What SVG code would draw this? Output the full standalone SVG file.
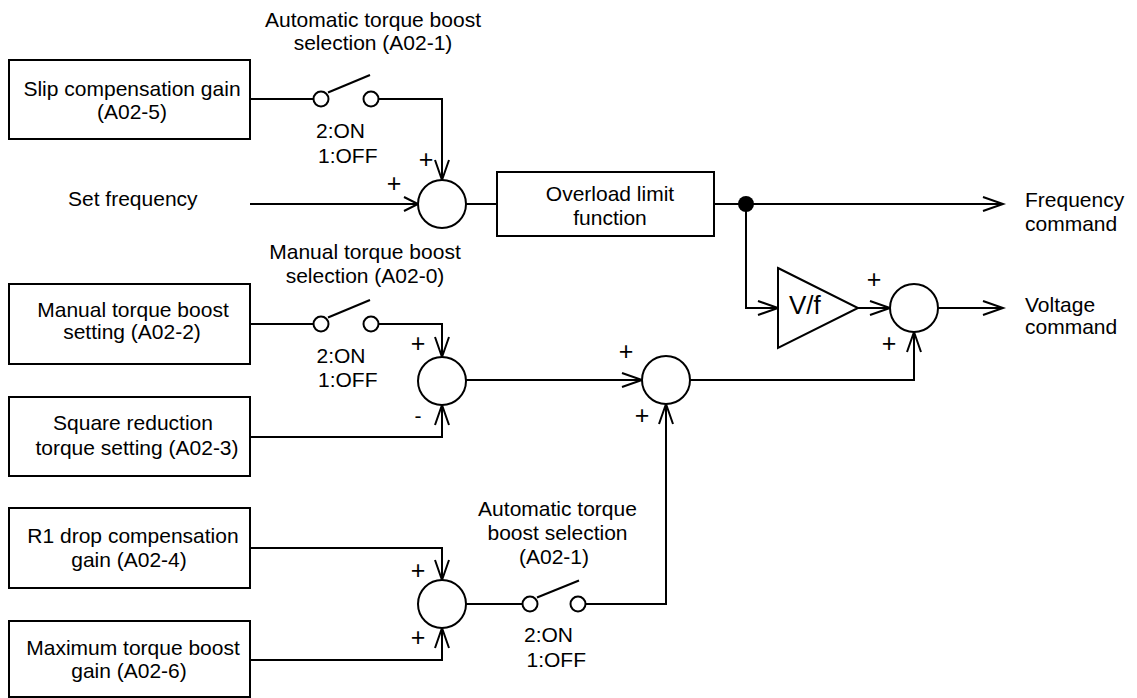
<svg xmlns="http://www.w3.org/2000/svg" width="1137" height="698" viewBox="0 0 1137 698">
<style>
  text { font-family: "Liberation Sans", Arial, sans-serif; font-size: 21px; fill: #000; }
  .c { text-anchor: middle; }
  .pl { text-anchor: middle; font-size: 25px; }
  .box { fill: #fff; stroke: #000; stroke-width: 2; }
  .sum { fill: #fff; stroke: #000; stroke-width: 2; }
  .sw { fill: #fff; stroke: #000; stroke-width: 2; }
  .ln { fill: none; stroke: #000; stroke-width: 2; }
  .arr { marker-end: url(#ah); }
  .arrs { marker-end: url(#ahs); }
</style>
<defs>
  <marker id="ah" markerUnits="userSpaceOnUse" markerWidth="30" markerHeight="30" viewBox="-25 -15 30 30" refX="0" refY="0" orient="auto" overflow="visible">
    <path d="M-20,-7 L0,0 L-20,7" fill="none" stroke="#000" stroke-width="2"/>
  </marker>
  <marker id="ahs" markerUnits="userSpaceOnUse" markerWidth="30" markerHeight="30" viewBox="-25 -15 30 30" refX="0" refY="0" orient="auto" overflow="visible">
    <path d="M-14,-7 L0,0 L-14,7" fill="none" stroke="#000" stroke-width="2"/>
  </marker>
</defs>
<rect width="1137" height="698" fill="#fff"/>

<g id="connectors">
  <path class="ln" d="M250,99 H313.5"/>
  <path class="ln arr" d="M378.5,99 H442 V180"/>
  <path class="ln arrs" d="M250,204 H418"/>
  <path class="ln" d="M466,204 H497"/>
  <path class="ln arr" d="M714,204 H1003"/>
  <path class="ln arr" d="M746,204 V308 H778"/>
  <path class="ln arr" d="M858,308 H890"/>
  <path class="ln arr" d="M938,308 H1003"/>
  <path class="ln" d="M250,324 H313.5"/>
  <path class="ln arr" d="M378.5,324 H442 V357"/>
  <path class="ln arr" d="M250,437 H442 V405"/>
  <path class="ln arr" d="M466,380 H642"/>
  <path class="ln arr" d="M690,380 H914 V332"/>
  <path class="ln arr" d="M250,548 H442 V580"/>
  <path class="ln arr" d="M250,660 H442 V628"/>
  <path class="ln" d="M466,604 H522.5"/>
  <path class="ln arr" d="M585.5,604 H666 V404"/>
  <circle cx="746" cy="204" r="8" fill="#000"/>
</g>

<g id="slip-box">
  <rect class="box" x="9" y="60" width="241" height="79"/>
  <text class="c" x="132" y="96">Slip compensation gain</text>
  <text class="c" x="132" y="119">(A02-5)</text>
</g>

<g id="switch-auto-top">
  <circle class="sw" cx="321" cy="99" r="7.5"/>
  <circle class="sw" cx="371" cy="99" r="7.5"/>
  <line class="ln" x1="328" y1="92.5" x2="370" y2="75"/>
  <text class="c" x="373" y="27">Automatic torque boost</text>
  <text class="c" x="373" y="49.5">selection (A02-1)</text>
  <text x="316" y="138">2:ON</text>
  <text x="318" y="163">1:OFF</text>
</g>

<g id="set-frequency">
  <text x="68" y="206">Set frequency</text>
</g>

<g id="sum1">
  <circle class="sum" cx="442" cy="204" r="24"/>
  <text class="pl" x="426" y="167.75">+</text>
  <text class="pl" x="394" y="191.75">+</text>
</g>

<g id="overload-box">
  <rect class="box" x="497" y="172" width="217" height="64"/>
  <text class="c" x="610" y="200.5">Overload limit</text>
  <text class="c" x="610" y="225">function</text>
</g>

<g id="frequency-command">
  <text x="1025" y="207">Frequency</text>
  <text x="1025" y="231">command</text>
</g>

<g id="vf">
  <polygon points="778,268 858,308 778,348" fill="#fff" stroke="#000" stroke-width="2"/>
  <text x="789" y="314" style="font-size:26px">V/f</text>
</g>

<g id="sum-voltage">
  <circle class="sum" cx="914" cy="308" r="24"/>
  <text class="pl" x="874" y="287.75">+</text>
  <text class="pl" x="889" y="351.75">+</text>
</g>

<g id="voltage-command">
  <text x="1025" y="312">Voltage</text>
  <text x="1025" y="334">command</text>
</g>

<g id="manual-box">
  <rect class="box" x="9" y="284" width="241" height="80"/>
  <text class="c" x="133" y="317">Manual torque boost</text>
  <text class="c" x="132" y="339">setting (A02-2)</text>
</g>

<g id="switch-manual">
  <circle class="sw" cx="321" cy="324" r="7.5"/>
  <circle class="sw" cx="371" cy="324" r="7.5"/>
  <line class="ln" x1="328" y1="317.5" x2="370" y2="300"/>
  <text class="c" x="365" y="259">Manual torque boost</text>
  <text class="c" x="365" y="283">selection (A02-0)</text>
  <text x="316.5" y="363">2:ON</text>
  <text x="318" y="387">1:OFF</text>
</g>

<g id="sum2">
  <circle class="sum" cx="442" cy="381" r="24"/>
  <text class="pl" x="418" y="351.75">+</text>
  <text class="c" x="418" y="422.5">-</text>
</g>

<g id="square-box">
  <rect class="box" x="9" y="397" width="241" height="79"/>
  <text class="c" x="133" y="430">Square reduction</text>
  <text class="c" x="137" y="455">torque setting (A02-3)</text>
</g>

<g id="sum3">
  <circle class="sum" cx="666" cy="380" r="24"/>
  <text class="pl" x="626" y="359.75">+</text>
  <text class="pl" x="642" y="423.75">+</text>
</g>

<g id="r1-box">
  <rect class="box" x="9" y="508" width="241" height="80"/>
  <text class="c" x="133" y="543">R1 drop compensation</text>
  <text class="c" x="129" y="567">gain (A02-4)</text>
</g>

<g id="max-box">
  <rect class="box" x="9" y="621" width="241" height="76"/>
  <text class="c" x="133" y="655">Maximum torque boost</text>
  <text class="c" x="129" y="678">gain (A02-6)</text>
</g>

<g id="sum4">
  <circle class="sum" cx="442" cy="604" r="24"/>
  <text class="pl" x="418" y="578.75">+</text>
  <text class="pl" x="418" y="645.75">+</text>
</g>

<g id="switch-auto-bottom">
  <circle class="sw" cx="530" cy="604" r="7.5"/>
  <circle class="sw" cx="578" cy="604" r="7.5"/>
  <line class="ln" x1="537" y1="597.5" x2="579" y2="580.5"/>
  <text class="c" x="557.5" y="516">Automatic torque</text>
  <text class="c" x="557.5" y="540">boost selection</text>
  <text class="c" x="554" y="564">(A02-1)</text>
  <text x="524" y="642">2:ON</text>
  <text x="526.5" y="667">1:OFF</text>
</g>
</svg>
